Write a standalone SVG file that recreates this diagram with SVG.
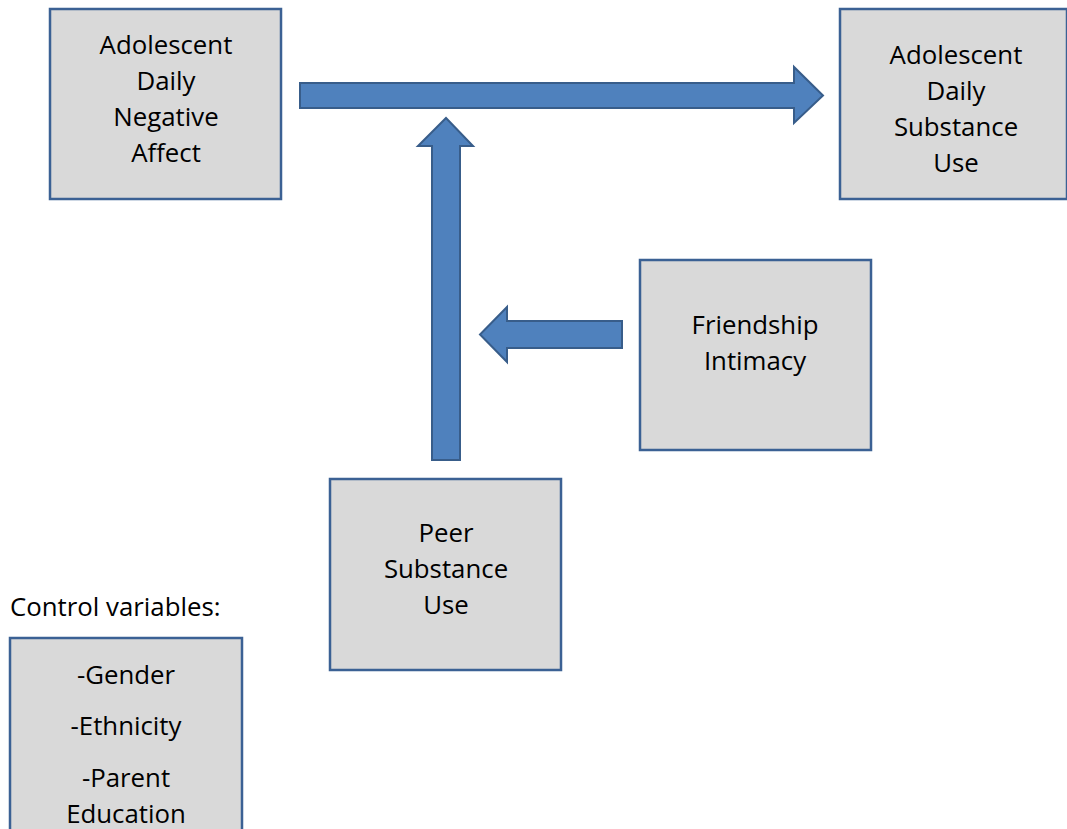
<svg xmlns="http://www.w3.org/2000/svg" width="1067" height="829" viewBox="0 0 1067 829">
<style>
.box{fill:#d9d9d9;stroke:#3b6194;stroke-width:2.5}
.arr{fill:#4f81bd;stroke:#385d8a;stroke-width:2}
text{font-family:"Open Sans","Liberation Sans",sans-serif;font-size:25.8px;fill:#000}
.c{text-anchor:middle}
</style>
<rect width="1067" height="829" fill="#fff"/>
<g id="connectors">
<polygon class="arr" points="300,83 794,83 794,67 823,95.5 794,123 794,108 300,108"/>
<polygon class="arr" points="432,460 432,146 418,146 446,118 473,146 460,146 460,460"/>
<polygon class="arr" points="622,321 507,321 507,307 480,334.5 507,362 507,348 622,348"/>
</g>
<g id="negative-affect">
<rect class="box" x="50" y="9" width="231" height="190"/>
<text class="c" x="166" y="54">Adolescent</text>
<text class="c" x="166" y="90">Daily</text>
<text class="c" x="166" y="126">Negative</text>
<text class="c" x="166" y="162">Affect</text>
</g>
<g id="substance-use">
<rect class="box" x="840" y="9" width="227" height="190"/>
<text class="c" x="956" y="64">Adolescent</text>
<text class="c" x="956" y="100">Daily</text>
<text class="c" x="956" y="136">Substance</text>
<text class="c" x="956" y="172">Use</text>
</g>
<g id="friendship-intimacy">
<rect class="box" x="640" y="260" width="231" height="190"/>
<text class="c" x="755" y="334">Friendship</text>
<text class="c" x="755" y="370">Intimacy</text>
</g>
<g id="peer-substance-use">
<rect class="box" x="330" y="479" width="231" height="191"/>
<text class="c" x="446" y="542">Peer</text>
<text class="c" x="446" y="578">Substance</text>
<text class="c" x="446" y="614">Use</text>
</g>
<g id="control-variables">
<text x="10" y="616">Control variables:</text>
<rect class="box" x="10" y="638" width="232" height="200"/>
<text class="c" x="126" y="684">-Gender</text>
<text class="c" x="126" y="735">-Ethnicity</text>
<text class="c" x="126" y="787">-Parent</text>
<text class="c" x="126" y="823">Education</text>
</g>
</svg>
